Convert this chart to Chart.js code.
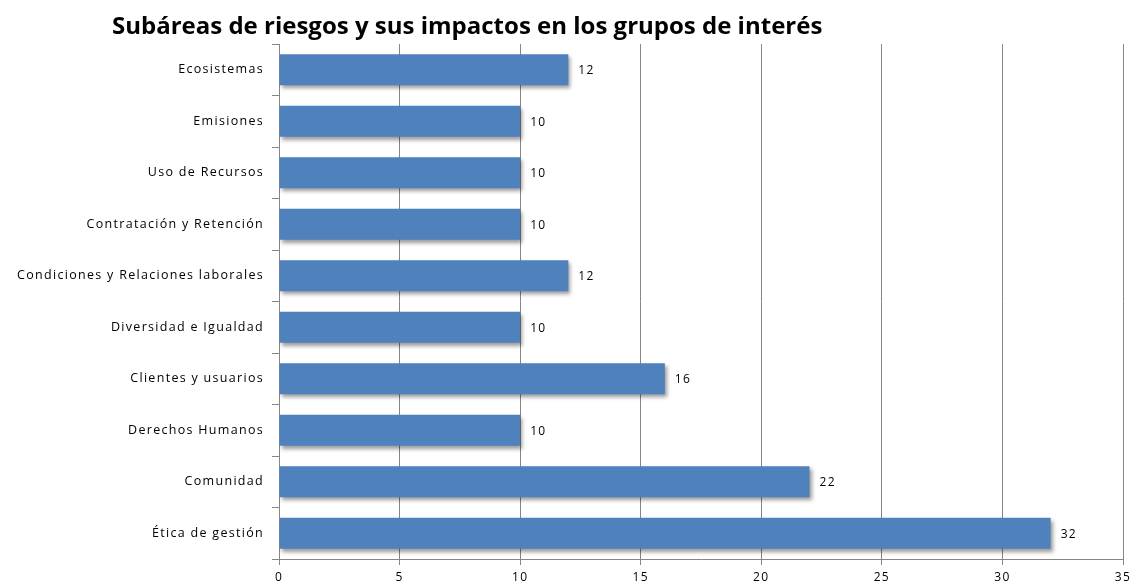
<!DOCTYPE html>
<html>
<head>
<meta charset="utf-8">
<script src="https://cdn.jsdelivr.net/npm/chart.js@4/dist/chart.umd.min.js"></script>
<style>
  html, body { margin: 0; padding: 0; background: #fff; }
  #wrap { width: 1142px; height: 588px; }
</style>
</head>
<body>
<div id="wrap"><canvas id="barChart"></canvas></div>
<script>
// Datos del gráfico
const subareas = [
  'Ecosistemas',
  'Emisiones',
  'Uso de Recursos',
  'Contratación y Retención',
  'Condiciones y Relaciones laborales',
  'Diversidad e Igualdad',
  'Clientes y usuarios',
  'Derechos Humanos',
  'Comunidad',
  'Ética de gestión'
];
const impactos = [12, 10, 10, 10, 12, 10, 16, 10, 22, 32];
const titulo = 'Subáreas de riesgos y sus impactos en los grupos de interés';

const fuente = '"Open Sans", sans-serif';

// sombra de las barras
const sombraBarras = {
  id: 'sombraBarras',
  beforeDraw(chart) {
    // espaciado de letras para imitar el texto original
    chart.ctx.letterSpacing = '1.3px';
  },
  beforeDatasetsDraw(chart) {
    const ctx = chart.ctx;
    ctx.save();
    ctx.shadowColor = 'rgba(0,0,0,0.4)';
    ctx.shadowOffsetX = 2;
    ctx.shadowOffsetY = 3;
    ctx.shadowBlur = 4;
  },
  afterDatasetsDraw(chart) {
    chart.ctx.restore();
  }
};

// etiquetas de valor y título
const etiquetas = {
  id: 'etiquetas',
  afterDraw(chart) {
    const ctx = chart.ctx;
    ctx.save();
    ctx.fillStyle = '#000';
    ctx.font = '12px ' + fuente;
    ctx.textAlign = 'left';
    ctx.textBaseline = 'middle';
    chart.getDatasetMeta(0).data.forEach((bar, i) => {
      ctx.fillText(impactos[i], bar.x + 10, bar.y + 1);
    });
    ctx.letterSpacing = '0px';
    ctx.font = 'bold 24px ' + fuente;
    ctx.textBaseline = 'alphabetic';
    ctx.fillText(titulo, 112, 34);
    ctx.restore();
    ctx.letterSpacing = '0px';
  }
};

const barCtx = document.getElementById('barChart').getContext('2d');
const barChart = new Chart(barCtx, {
  type: 'bar',
  data: {
    labels: subareas,
    datasets: [{
      data: impactos,
      backgroundColor: '#4F81BD',
      borderWidth: 0,
      barPercentage: 0.6,
      categoryPercentage: 1
    }]
  },
  options: {
    indexAxis: 'y',
    responsive: true,
    maintainAspectRatio: false,
    animation: false,
    layout: { padding: { top: 44, right: 19, left: 0, bottom: 0 } },
    plugins: {
      legend: { display: false },
      tooltip: { enabled: false }
    },
    scales: {
      x: {
        min: 0,
        max: 35,
        ticks: { stepSize: 5, color: '#000', font: { family: fuente, size: 12 }, padding: 5 },
        grid: { color: '#868686', lineWidth: 1, tickLength: 6 },
        border: { color: '#868686' },
        afterFit: s => { s.height = 29; }
      },
      y: {
        ticks: { color: '#000', font: { family: fuente, size: 12.5 }, padding: 8 },
        grid: { drawOnChartArea: false, color: '#868686', tickLength: 7, offset: true },
        border: { color: '#868686' },
        afterFit: s => { s.width = 279; }
      }
    }
  },
  plugins: [sombraBarras, etiquetas]
});
</script>
</body>
</html>
